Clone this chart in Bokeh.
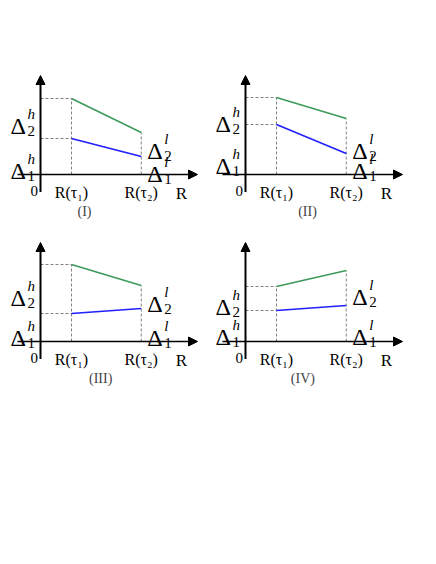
from bokeh.plotting import figure
from bokeh.models import Range1d, Arrow, NormalHead, Spacer
from bokeh.layouts import column, row
from bokeh.embed import file_html
from bokeh.resources import INLINE
from bokeh.core.properties import value

# ---------------- data ----------------
x_tau = [1.0, 3.25]                 # positions of R(tau1), R(tau2)
tick_labels = ["R(τ₁)", "R(τ₂)"]
captions = ["(I)", "(II)", "(III)", "(IV)"]
green_I = [7.6, 4.2]
blue_I = [3.6, 1.8]
green_II = [7.7, 5.6]
blue_II = [5.0, 2.1]
green_III = [7.7, 5.6]
blue_III = [2.8, 3.3]
green_IV = [5.5, 7.1]
blue_IV = [3.1, 3.6]
greens = [green_I, green_II, green_III, green_IV]
blues = [blue_I, blue_II, blue_III, blue_IV]

# label baselines (layout)
left_h2 = [4.9, 5.1, 4.4, 3.5]
left_h1 = [0.4, 0.9, 0.4, 0.5]
right_l2 = [2.4, 2.4, 3.8, 4.5]
right_l1 = [0.1, 0.4, 0.4, 0.5]
cap_x = [1.42, 2.0, 1.94, 1.85]

# ---------------- layout constants ----------------
XS = 31.0   # px per x unit
YS = 10.0   # px per y unit
OX = 32     # origin px from left of figure
OY = 114    # origin px from top of figure
H = 167
widths = [205, 213, 205, 213]

FONT = value("Liberation Serif")
GREEN = "#3d9a5b"
BLUE = "#1f1fff"
GRAY = "#808080"


def delta_label(p, x, y, sup, sub, sub_dy=5):
    p.text(x=[x], y=[y], text=["Δ"], text_font=FONT, text_font_size="24px",
           text_align="left", text_baseline="alphabetic", text_color="black")
    p.text(x=[x + 17 / XS], y=[y + 12 / YS], text=[sup], text_font=FONT,
           text_font_size="15px", text_font_style="italic",
           text_align="left", text_baseline="alphabetic", text_color="black")
    p.text(x=[x + 17 / XS], y=[y - sub_dy / YS], text=[sub], text_font=FONT,
           text_font_size="15px", text_align="left",
           text_baseline="alphabetic", text_color="black")


def panel(i):
    W = widths[i]
    p = figure(width=W, height=H,
               x_range=Range1d(-OX / XS, (W - OX) / XS),
               y_range=Range1d(-(H - OY) / YS, OY / YS),
               output_backend="svg", toolbar_location=None,
               x_axis_type=None, y_axis_type=None, min_border=0,
               outline_line_color=None, background_fill_color="white",
               border_fill_color="white")
    g = greens[i]
    b = blues[i]
    # dashed guides
    p.segment(x0=[x_tau[0], x_tau[1], 0, 0], y0=[0, 0, g[0], b[0]],
              x1=[x_tau[0], x_tau[1], x_tau[0], x_tau[0]],
              y1=[g[0], g[1], g[0], b[0]],
              line_color=GRAY, line_dash="3 2", line_width=1)
    # lines
    p.line(x=x_tau, y=g, line_color=GREEN, line_width=1.6)
    p.line(x=x_tau, y=b, line_color=BLUE, line_width=1.6)
    # axes with arrows
    p.add_layout(Arrow(end=NormalHead(size=9, fill_color="black", line_color="black"),
                       x_start=0, y_start=-1.75, x_end=0, y_end=9.9,
                       line_width=2, line_color="black"))
    p.add_layout(Arrow(end=NormalHead(size=9, fill_color="black", line_color="black"),
                       x_start=-23 / XS, y_start=0, x_end=157 / XS, y_end=0,
                       line_width=1.6, line_color="black"))
    # tick labels
    p.text(x=[-10 / XS], y=[-1.6], text=["0"], text_font=FONT, text_font_size="15px",
           text_align="left", text_baseline="alphabetic", text_color="black")
    p.text(x=x_tau, y=[-1.8, -1.8], text=tick_labels, text_font=FONT,
           text_font_size="16px", text_align="center", text_baseline="alphabetic",
           text_color="black")
    p.text(x=[141 / XS], y=[-1.9], text=["R"], text_font=FONT, text_font_size="17px",
           text_align="center", text_baseline="alphabetic", text_color="black")
    # caption
    p.text(x=[cap_x[i]], y=[-3.7], text=[captions[i]], text_font=FONT,
           text_font_size="14px", text_align="center", text_baseline="middle",
           text_color="#444444")
    # delta labels
    lx = -30 / XS
    rx = x_tau[1] + 6 / XS
    delta_label(p, lx, left_h2[i], "h", "2")
    delta_label(p, lx, left_h1[i], "h", "1")
    delta_label(p, rx, right_l2[i], "l", "2")
    delta_label(p, rx, right_l1[i], "l", "1")
    return p


figs = [panel(i) for i in range(4)]
layout = row(Spacer(width=8, height=10),
             column(Spacer(width=418, height=60),
                    row(figs[0], figs[1]),
                    row(figs[2], figs[3])))

open("out.html", "w").write(file_html(layout, INLINE))
